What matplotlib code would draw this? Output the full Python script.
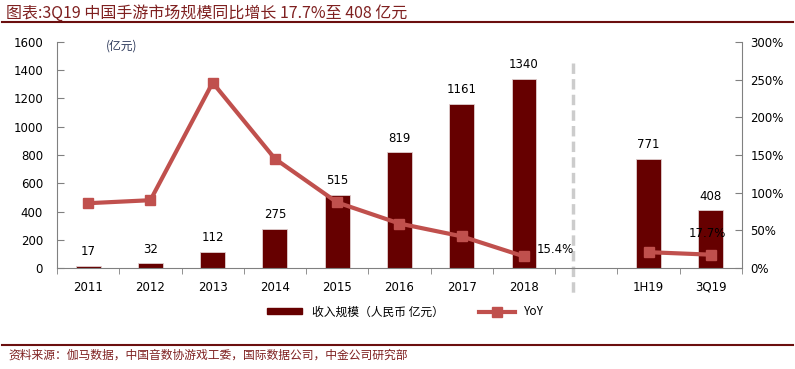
import numpy as np
import matplotlib
matplotlib.use("Agg")
import matplotlib.pyplot as plt
from matplotlib.lines import Line2D
from matplotlib.patches import Patch

plt.rcParams['font.family'] = ['DejaVu Sans', 'Noto Sans CJK SC']

# Data
categories = ["2011", "2012", "2013", "2014", "2015", "2016", "2017", "2018", "", "1H19", "3Q19"]
revenue = [17, 32, 112, 275, 515, 819, 1161, 1340, None, 771, 408]
yoy = [86, 90, 246, 145, 87, 59, 42, 15.4, None, 21, 17.7]

bar_color = "#660000"
line_color = "#C0504D"
grey = "#808080"

fig = plt.figure(figsize=(7.95, 3.69), dpi=100)
ax = fig.add_axes([0.0717, 0.2737, 0.8616, 0.6125])
ax2 = ax.twinx()

x = np.arange(len(categories))
bar_idx = [i for i, v in enumerate(revenue) if v is not None]
ax.bar([x[i] for i in bar_idx], [revenue[i] for i in bar_idx], width=0.4,
       color=bar_color, edgecolor="#e0d0d0", linewidth=0.6, zorder=2)
for i in bar_idx:
    ax.text(x[i], revenue[i] + 55, str(revenue[i]), ha="center", va="bottom", fontsize=8.5)

# YoY line: two segments (years, then 2019)
seg1 = list(range(0, 8))
seg2 = [9, 10]
for seg in (seg1, seg2):
    ax2.plot([x[i] for i in seg], [yoy[i] for i in seg], color=line_color, lw=3,
             marker="s", markersize=7, zorder=3)
ax2.text(x[7] + 0.2, yoy[7] + 1, "15.4%", ha="left", va="bottom", fontsize=8.5)
ax2.text(x[10] - 0.05, yoy[10] + 20, "17.7%", ha="center", va="bottom", fontsize=8.5)

ax.set_xlim(-0.5, len(categories) - 0.5)
ax.set_ylim(0, 1600)
ax.set_yticks(np.arange(0, 1601, 200))
ax2.set_ylim(0, 300)
ax2.set_yticks(np.arange(0, 301, 50))
ax2.set_yticklabels([f"{v}%" for v in range(0, 301, 50)])

ax.set_xticks(x)
ax.set_xticklabels(categories, fontsize=8.5)
ax.set_xticks(np.arange(-0.5, len(categories), 1), minor=True)
ax.tick_params(axis="x", which="major", length=0, pad=9)
ax.tick_params(axis="x", which="minor", length=4, color=grey, direction="out")
ax.tick_params(axis="y", length=5, color=grey, direction="in", labelsize=8.5, pad=10)
ax2.tick_params(axis="y", length=5, color=grey, direction="in", labelsize=8.5, pad=6)

for a in (ax, ax2):
    a.spines["top"].set_visible(False)
    for s in ("left", "right", "bottom"):
        a.spines[s].set_color(grey)
ax.spines["right"].set_visible(False)
ax2.spines["left"].set_visible(False)
ax2.spines["bottom"].set_visible(False)

# dashed separator between yearly and 2019 data
ax.plot([7.78, 7.78], [1450, -180], ls=(0, (3, 1.5)), color="#cccccc", lw=2.5,
        clip_on=False, zorder=1)

ax.text(0.28, 1570, "(亿元)", fontsize=8.5, color="#2f3b5c", ha="left", va="center",
        family=['Noto Sans CJK SC'])

handles = [Patch(color=bar_color),
           Line2D([0], [0], color=line_color, lw=3, marker="s", markersize=7)]
fig.legend(handles, ["收入规模（人民币 亿元）", "YoY"], loc="center", ncol=2,
           bbox_to_anchor=(0.51, 0.155), frameon=False,
           handlelength=3, handleheight=0.5, columnspacing=3,
           prop={'family': ['Noto Sans CJK SC', 'DejaVu Sans'], 'size': 8.5})

fig.text(0.008, 0.965, "图表:3Q19 中国手游市场规模同比增长 17.7%至 408 亿元", fontsize=11.5,
         color="#7f2020", style="italic", va="center",
         family=['Noto Sans CJK SC', 'DejaVu Sans'])
fig.add_artist(Line2D([0.003, 0.997], [0.94, 0.94], color="#6b0f0f", lw=1.5))
fig.add_artist(Line2D([0.003, 0.997], [0.065, 0.065], color="#6b0f0f", lw=1.5))
fig.text(0.01, 0.038, "资料来源：伽马数据，中国音数协游戏工委，国际数据公司，中金公司研究部", fontsize=8.5,
         color="#7f2020", style="italic", va="center",
         family=['Noto Sans CJK SC', 'DejaVu Sans'])

fig.savefig("out.png", dpi=100)
